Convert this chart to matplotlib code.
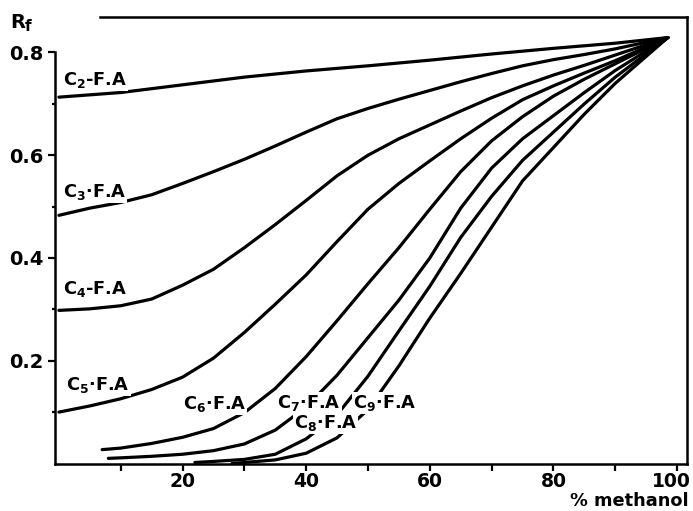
import matplotlib
matplotlib.use("Agg")
import matplotlib.pyplot as plt
from matplotlib.transforms import ScaledTranslation

# ---- data (x = % methanol, y = Rf) ----
c2_x = [0, 10, 20, 30, 40, 50, 60, 70, 80, 90, 98.5]
c2_y = [0.713, 0.722, 0.737, 0.752, 0.764, 0.774, 0.785, 0.797, 0.808, 0.818, 0.829]

c3_x = [0, 5, 10, 15, 20, 25, 30, 35, 40, 45, 50, 55, 60, 65, 70, 75, 80, 85, 90, 98.5]
c3_y = [0.483, 0.497, 0.508, 0.523, 0.545, 0.568, 0.592, 0.618, 0.645, 0.671, 0.691,
        0.709, 0.726, 0.743, 0.759, 0.774, 0.786, 0.796, 0.807, 0.829]

c4_x = [0, 5, 10, 15, 20, 25, 30, 35, 40, 45, 50, 55, 60, 65, 70, 75, 80, 85, 90, 98.5]
c4_y = [0.298, 0.301, 0.307, 0.320, 0.347, 0.378, 0.420, 0.465, 0.512, 0.560, 0.600,
        0.632, 0.659, 0.686, 0.712, 0.735, 0.756, 0.775, 0.795, 0.829]

c5_x = [0, 5, 10, 15, 20, 25, 30, 35, 40, 45, 50, 55, 60, 65, 70, 75, 80, 85, 90, 98.5]
c5_y = [0.100, 0.112, 0.126, 0.144, 0.168, 0.205, 0.255, 0.310, 0.367, 0.432, 0.495,
        0.545, 0.589, 0.632, 0.672, 0.708, 0.735, 0.760, 0.784, 0.829]

c6_x = [7, 10, 15, 20, 25, 30, 35, 40, 45, 50, 55, 60, 65, 70, 75, 80, 85, 90, 98.5]
c6_y = [0.027, 0.030, 0.039, 0.051, 0.068, 0.099, 0.146, 0.208, 0.278, 0.350, 0.420,
        0.495, 0.568, 0.628, 0.675, 0.715, 0.748, 0.778, 0.829]

c7_x = [8, 10, 15, 20, 25, 30, 35, 40, 45, 50, 55, 60, 65, 70, 75, 80, 85, 90, 98.5]
c7_y = [0.010, 0.011, 0.014, 0.018, 0.025, 0.038, 0.065, 0.110, 0.172, 0.245, 0.318,
        0.400, 0.497, 0.575, 0.632, 0.677, 0.722, 0.765, 0.829]

c8_x = [22, 25, 30, 35, 40, 45, 50, 55, 60, 65, 70, 75, 80, 85, 90, 98.5]
c8_y = [0.002, 0.004, 0.008, 0.018, 0.048, 0.095, 0.170, 0.258, 0.345, 0.440, 0.520,
        0.590, 0.645, 0.700, 0.752, 0.829]

c9_x = [28, 30, 35, 40, 45, 50, 55, 60, 65, 70, 75, 80, 85, 90, 98.5]
c9_y = [0.000, 0.002, 0.007, 0.020, 0.050, 0.105, 0.190, 0.283, 0.370, 0.460, 0.550,
        0.615, 0.680, 0.740, 0.829]

series = [(c2_x, c2_y), (c3_x, c3_y), (c4_x, c4_y), (c5_x, c5_y),
          (c6_x, c6_y), (c7_x, c7_y), (c8_x, c8_y), (c9_x, c9_y)]

labels = [r'C$_\mathbf{2}$-F.A', r'C$_\mathbf{3}$·F.A', r'C$_\mathbf{4}$-F.A', r'C$_\mathbf{5}$·F.A',
          r'C$_\mathbf{6}$·F.A', r'C$_\mathbf{7}$·F.A', r'C$_\mathbf{8}$·F.A', r'C$_\mathbf{9}$·F.A']
label_x = [0.6, 0.6, 0.6, 1.2, 20.0, 35.3, 38.0, 47.5]
label_y = [0.747, 0.528, 0.339, 0.152, 0.115, 0.117, 0.078, 0.117]

x_major = [20, 40, 60, 80, 100]
x_minor = [10, 30, 50, 70, 90]
y_major = [0.2, 0.4, 0.6, 0.8]
y_minor = [0.1, 0.3, 0.5, 0.7]

plt.rcParams['font.family'] = ['DejaVu Sans']
plt.rcParams['mathtext.fontset'] = 'dejavusans'

fig = plt.figure(figsize=(6.93, 5.11), dpi=100)
ax = fig.add_axes([55 / 693, 47.5 / 511, 632 / 693, 446.5 / 511])

for (xs, ys) in series:
    ax.plot(xs, ys, color='black', lw=2.3, solid_capstyle='round', solid_joinstyle='round', zorder=2)

for t, lx, ly in zip(labels, label_x, label_y):
    ax.text(lx, ly, t, fontsize=12.8, fontweight='bold', ha='left', va='center', zorder=4,
            bbox=dict(boxstyle='square,pad=0.05', fc='white', ec='none'))

ax.set_xlim(-0.63, 101.6)
ax.set_ylim(0, 0.869)

for s in ax.spines.values():
    s.set_linewidth(1.8)
ax.spines['left'].set_bounds(0, 0.8)
ax.spines['top'].set_bounds(6.65, 101.6)

ax.set_xticks(x_major)
ax.set_xticks(x_minor, minor=True)
ax.set_yticks(y_major)
ax.set_yticks(y_minor, minor=True)
ax.set_xticklabels([str(v) for v in x_major])
ax.set_yticklabels([str(v) for v in y_major])
ax.tick_params(axis='x', which='both', direction='out', length=5, width=1.6, pad=1.2,
               labelsize=13.5)
ax.tick_params(axis='y', which='major', direction='out', length=5, width=1.6, pad=3,
               labelsize=14)
ax.tick_params(axis='y', which='minor', direction='out', length=2.5, width=1.6)
for lab in ax.get_xticklabels() + ax.get_yticklabels():
    lab.set_fontweight('bold')
# the last x label sits against the right border, as in the reference
last = ax.get_xticklabels()[-1]
last.set_transform(last.get_transform() + ScaledTranslation(-6 / 100, 0, fig.dpi_scale_trans))

fig.text(10 / 693, 1 - 28 / 511, 'R', fontsize=14, fontweight='bold', ha='left', va='baseline')
fig.text(25 / 693, 1 - 31 / 511, 'f', fontsize=11, fontweight='bold', ha='left', va='baseline')
fig.text(689 / 693, 1 - 506 / 511, '% methanol', fontsize=12.8, fontweight='bold',
         ha='right', va='baseline')

fig.savefig('out.png', dpi=100, facecolor='white')
